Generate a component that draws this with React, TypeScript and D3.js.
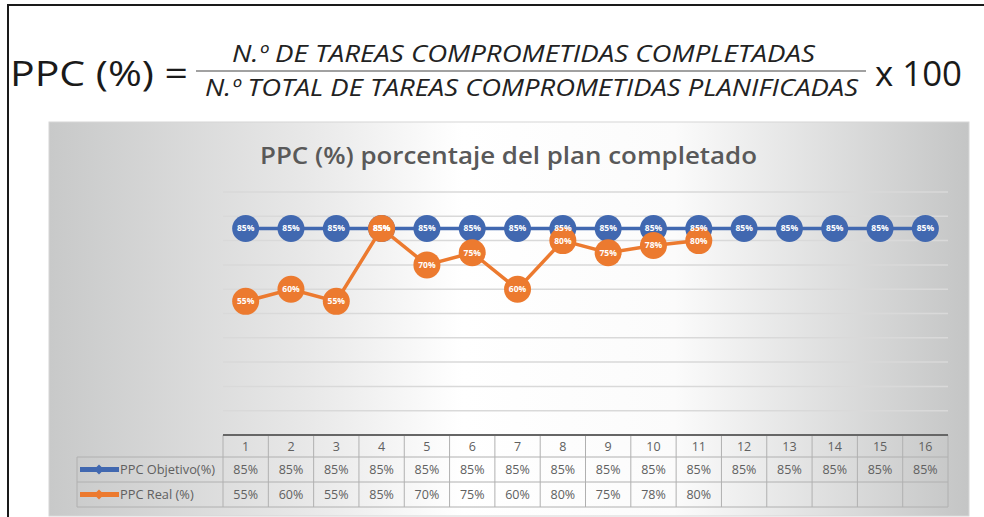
import React from 'react';
import * as d3 from 'd3';

const weeks = ['1', '2', '3', '4', '5', '6', '7', '8', '9', '10', '11', '12', '13', '14', '15', '16'];
const objetivo = [85, 85, 85, 85, 85, 85, 85, 85, 85, 85, 85, 85, 85, 85, 85, 85];
const real = [55, 60, 55, 85, 70, 75, 60, 80, 75, 78, 80];
const yTicks = [10, 20, 30, 40, 50, 60, 70, 80, 90, 100];

const seriesNames = ['PPC Objetivo(%)', 'PPC Real (%)'];
const BLUE = '#4168b0';
const ORANGE = '#ec7a2f';
const FONT = "'Open Sans', sans-serif";

function App() {
    const x = d3.scaleBand().domain(weeks).range([223, 948]);
    const y = d3.scaleLinear().domain([0, 100]).range([435, 192]);
    const cx = (i) => x(weeks[i]) + x.bandwidth() / 2;

    const line = d3
        .line()
        .x((d, i) => cx(i))
        .y((d) => y(d));

    const rowTops = [435, 457, 482, 507];
    const series = [objetivo, real];
    const colors = [BLUE, ORANGE];

    return (
        <div style={{ position: 'fixed', left: 0, top: 0 }}>
            <svg width={984} height={517} style={{ display: 'block', background: '#fff' }}>
                <defs>
                    <linearGradient id="bg" x1="0" x2="1" y1="0" y2="0">
                        <stop offset="0" stopColor="#c8c9c9" />
                        <stop offset="0.28" stopColor="#e8e8e8" />
                        <stop offset="0.45" stopColor="#ffffff" />
                        <stop offset="0.68" stopColor="#fbfbfb" />
                        <stop offset="1" stopColor="#c4c5c5" />
                    </linearGradient>
                </defs>

                {/* frame */}
                <path d="M8,517 V5 H984" fill="none" stroke="#1a1a1a" strokeWidth={2} />

                {/* formula */}
                <text x={10} y={86} fontFamily={FONT} fontSize={34} fill="#1a1a1a"
                    textLength={178} lengthAdjust="spacingAndGlyphs">PPC (%) =</text>
                <text x={232} y={62} fontFamily={FONT} fontSize={23} fontStyle="italic" fill="#222"
                    textLength={583} lengthAdjust="spacingAndGlyphs">N.º DE TAREAS COMPROMETIDAS COMPLETADAS</text>
                <line x1={196} x2={866} y1={71} y2={71} stroke="#444" strokeWidth={1.2} />
                <text x={205} y={96} fontFamily={FONT} fontSize={23} fontStyle="italic" fill="#222"
                    textLength={653} lengthAdjust="spacingAndGlyphs">N.º TOTAL DE TAREAS COMPROMETIDAS PLANIFICADAS</text>
                <text x={875} y={86} fontFamily={FONT} fontSize={34} fill="#1a1a1a"
                    textLength={87} lengthAdjust="spacingAndGlyphs">x 100</text>

                {/* chart area */}
                <rect x={49} y={122} width={920} height={394} fill="url(#bg)" stroke="#d6d6d6" />
                <text x={260} y={164} fontFamily={FONT} fontSize={24} fontWeight={600}
                    fill="#595959" textLength={497} lengthAdjust="spacingAndGlyphs">PPC (%) porcentaje del plan completado</text>

                {/* gridlines */}
                {yTicks.map((t) => (
                    <line key={t} x1={223} x2={948} y1={y(t)} y2={y(t)} stroke="#d9d9d9" strokeWidth={1.5} />
                ))}

                {/* table */}
                <g fontFamily={FONT} fontSize={12.5} fill="#606060" textAnchor="middle">
                    {weeks.map((w, i) => (
                        <g key={w}>
                            <line x1={x(w)} x2={x(w)} y1={rowTops[0]} y2={rowTops[3]} stroke="#b0b0b0" />
                            <text x={cx(i)} y={(rowTops[0] + rowTops[1]) / 2 + 4.5}>{w}</text>
                            {series.map((s, k) =>
                                s[i] != null ? (
                                    <text key={k} x={cx(i)} y={(rowTops[k + 1] + rowTops[k + 2]) / 2 + 4.5}>
                                        {s[i]}%
                                    </text>
                                ) : null
                            )}
                        </g>
                    ))}
                    <line x1={948} x2={948} y1={rowTops[0]} y2={rowTops[3]} stroke="#b0b0b0" />
                    <line x1={77} x2={77} y1={rowTops[1]} y2={rowTops[3]} stroke="#b0b0b0" />
                    {rowTops.slice(1).map((r) => (
                        <line key={r} x1={77} x2={948} y1={r} y2={r} stroke="#b0b0b0" />
                    ))}
                    {seriesNames.map((n, k) => {
                        const cy = (rowTops[k + 1] + rowTops[k + 2]) / 2;
                        return (
                            <g key={n}>
                                <line x1={80} x2={119} y1={cy} y2={cy} stroke={colors[k]} strokeWidth={5} />
                                <path d={`M99,${cy - 5} L104,${cy} L99,${cy + 5} L94,${cy} Z`} fill={colors[k]} />
                                <text x={120} y={cy + 4.5} textAnchor="start" fontSize={12.8}>{n}</text>
                            </g>
                        );
                    })}
                </g>
                <line x1={223} x2={948} y1={435} y2={435} stroke="#666" strokeWidth={2} />

                {/* series */}
                {series.map((s, k) => (
                    <g key={k}>
                        <path d={line(s)} fill="none" stroke={colors[k]} strokeWidth={3.5} />
                        {s.map((v, i) => (
                            <circle key={i} cx={cx(i)} cy={y(v)} r={13.5} fill={colors[k]} />
                        ))}
                    </g>
                ))}
                {series.map((s, k) => (
                    <g key={k} fontFamily={FONT} fontSize={8.5} fontWeight={700} fill="#fff" textAnchor="middle">
                        {s.map((v, i) => (
                            <text key={i} x={cx(i)} y={y(v) + 3}>{v}%</text>
                        ))}
                    </g>
                ))}
            </svg>
        </div>
    );
}

export default App;
